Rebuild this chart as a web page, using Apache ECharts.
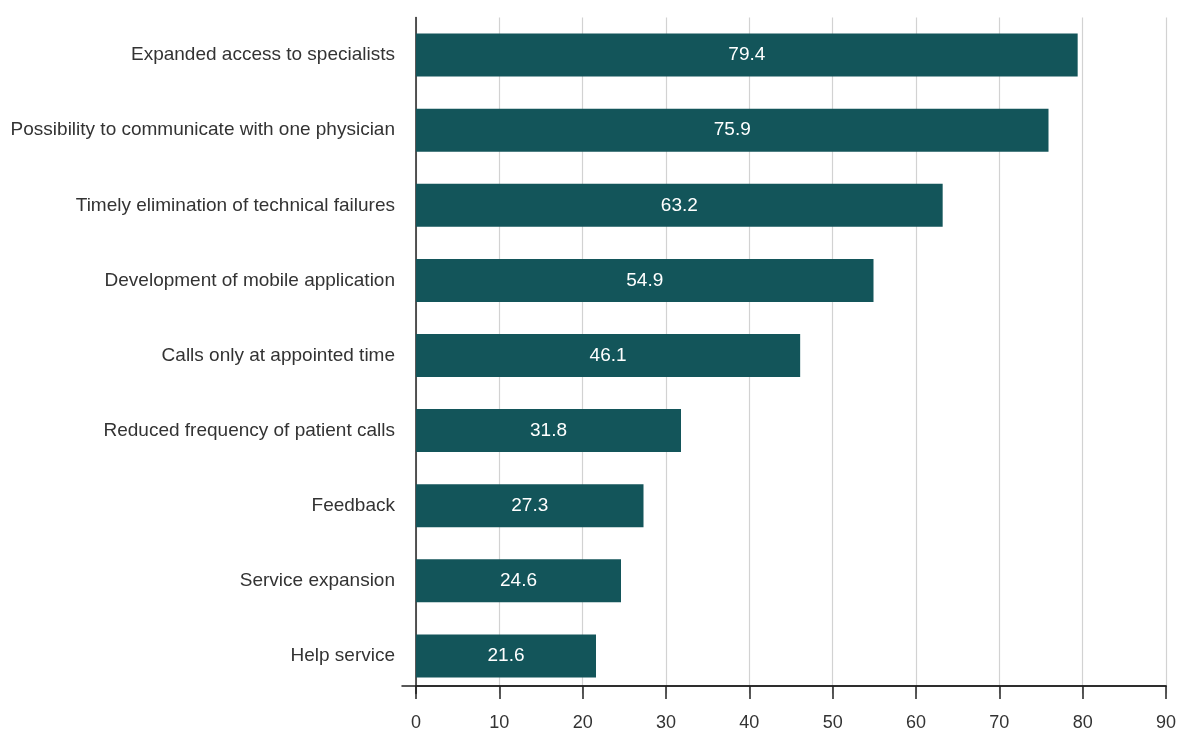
<!DOCTYPE html>
<html>
<head>
<meta charset="utf-8">
<script src="https://cdn.jsdelivr.net/npm/echarts@6/dist/echarts.min.js"></script>
<style>
  html, body { margin: 0; padding: 0; background: #fff; }
  #main { width: 1178px; height: 729px; }
</style>
</head>
<body>
<div id="main"></div>
<script>
const categories = [
  'Expanded access to specialists',
  'Possibility to communicate with one physician',
  'Timely elimination of technical failures',
  'Development of mobile application',
  'Calls only at appointed time',
  'Reduced frequency of patient calls',
  'Feedback',
  'Service expansion',
  'Help service'
]
const values = [79.4, 75.9, 63.2, 54.9, 46.1, 31.8, 27.3, 24.6, 21.6]
const xTicks = [0, 10, 20, 30, 40, 50, 60, 70, 80, 90]

const chart = echarts.init(document.getElementById('main'))

const axisColor = '#222'

const option = {
  animation: false,
  textStyle: { fontFamily: '"Liberation Sans", Arial, sans-serif' },
  grid: [
    {
      left: 416,
      right: 12,
      top: 17.5,
      bottom: 35.5,
      outerBoundsMode: 'none', // keep the grid fixed, labels may touch the edge
    },
    // only used to let the bottom axis line run a bit past zero, like the original
    { left: 402, right: 12, top: 17.5, bottom: 35.5, outerBoundsMode: 'none' },
  ],
  xAxis: [
    {
      type: 'value',
      min: xTicks[0],
      max: xTicks[xTicks.length - 1],
      interval: 10,
      offset: -7.5, // axis line sits a little above the last band edge
      axisLine: { show: true, lineStyle: { color: axisColor, width: 1.5 } },
      axisTick: { show: true, length: 13, lineStyle: { color: axisColor, width: 1.5 } },
      axisLabel: { color: '#333', fontSize: 18, margin: 28 },
      splitLine: { show: true, lineStyle: { color: '#d2d2d2', width: 1.2 } },
    },
    {
      type: 'value',
      gridIndex: 1,
      offset: -7.5,
      axisLine: { show: true, lineStyle: { color: axisColor, width: 1.5 } },
      axisTick: { show: false },
      axisLabel: { show: false },
      splitLine: { show: false },
    },
  ],
  yAxis: [
    {
      type: 'category',
      data: categories,
      inverse: true,
      axisLine: { show: true, lineStyle: { color: axisColor, width: 1.5 } },
      axisTick: { show: false },
      axisLabel: { color: '#333', fontSize: 19, margin: 21 },
    },
    {
      type: 'value',
      gridIndex: 1,
      show: false,
    },
  ],
  series: [
    {
      type: 'bar',
      data: values,
      barWidth: 43,
      itemStyle: { color: '#13555a' },
      label: {
        show: true,
        position: 'inside',
        color: '#fff',
        fontSize: 19,
        formatter: (p) => p.value.toFixed(1),
      },
    },
  ],
}

chart.setOption(option)
</script>
</body>
</html>
